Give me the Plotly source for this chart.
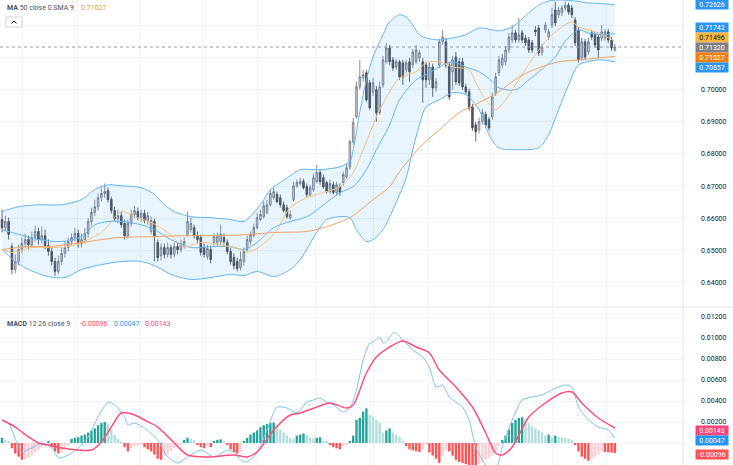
import plotly.graph_objects as go

# ---------------- data ----------------
open_ = [0.6596, 0.6571, 0.6590, 0.6512, 0.6441, 0.6466, 0.6503, 0.6522, 0.6534, 0.6518,
         0.6540, 0.6559, 0.6534, 0.6546, 0.6515, 0.6497, 0.6466, 0.6435, 0.6466, 0.6491,
         0.6509, 0.6528, 0.6540, 0.6553, 0.6522, 0.6534, 0.6553, 0.6590, 0.6618, 0.6636,
         0.6664, 0.6677, 0.6686, 0.6658, 0.6624, 0.6599, 0.6608, 0.6584, 0.6546, 0.6584,
         0.6612, 0.6621, 0.6602, 0.6615, 0.6593, 0.6559, 0.6590, 0.6525, 0.6484, 0.6509,
         0.6488, 0.6509, 0.6488, 0.6512, 0.6503, 0.6515, 0.6550, 0.6565, 0.6571, 0.6546,
         0.6540, 0.6509, 0.6481, 0.6503, 0.6525, 0.6525, 0.6528, 0.6540, 0.6525, 0.6497,
         0.6478, 0.6466, 0.6447, 0.6466, 0.6503, 0.6528, 0.6546, 0.6571, 0.6596, 0.6605,
         0.6618, 0.6642, 0.6664, 0.6674, 0.6664, 0.6642, 0.6633, 0.6602, 0.6658, 0.6701,
         0.6708, 0.6714, 0.6698, 0.6674, 0.6689, 0.6714, 0.6742, 0.6726, 0.6711, 0.6683,
         0.6704, 0.6680, 0.6698, 0.6711, 0.6729, 0.6760, 0.6838, 0.6915, 0.7008, 0.7036,
         0.7052, 0.7021, 0.6993, 0.6999, 0.6928, 0.7014, 0.7086, 0.7129, 0.7092, 0.7070,
         0.7086, 0.7083, 0.7061, 0.7086, 0.7076, 0.7086, 0.7098, 0.7086, 0.7076, 0.7030,
         0.7070, 0.7005, 0.7076, 0.7148, 0.7148, 0.7076, 0.7055, 0.7101, 0.7086, 0.7086,
         0.7008, 0.6993, 0.6946, 0.6890, 0.6875, 0.6900, 0.6922, 0.6906, 0.6915, 0.6990,
         0.7052, 0.7076, 0.7086, 0.7123, 0.7154, 0.7176, 0.7154, 0.7176, 0.7160, 0.7154,
         0.7145, 0.7185, 0.7191, 0.7114, 0.7185, 0.7163, 0.7200, 0.7247, 0.7232, 0.7238,
         0.7253, 0.7262, 0.7253, 0.7216, 0.7185, 0.7098, 0.7148, 0.7117, 0.7176, 0.7170,
         0.7163, 0.7160, 0.7160, 0.7179, 0.7154, 0.7123]
high = [0.6627, 0.6608, 0.6602, 0.6522, 0.6488, 0.6518, 0.6540, 0.6553, 0.6546, 0.6559,
        0.6577, 0.6571, 0.6574, 0.6565, 0.6534, 0.6509, 0.6478, 0.6484, 0.6509, 0.6528,
        0.6540, 0.6553, 0.6571, 0.6565, 0.6553, 0.6571, 0.6602, 0.6633, 0.6658, 0.6677,
        0.6695, 0.6708, 0.6695, 0.6667, 0.6636, 0.6627, 0.6621, 0.6596, 0.6596, 0.6627,
        0.6639, 0.6633, 0.6627, 0.6627, 0.6621, 0.6605, 0.6599, 0.6534, 0.6522, 0.6522,
        0.6525, 0.6518, 0.6525, 0.6525, 0.6534, 0.6540, 0.6621, 0.6602, 0.6580, 0.6559,
        0.6550, 0.6522, 0.6518, 0.6515, 0.6553, 0.6556, 0.6580, 0.6553, 0.6534, 0.6509,
        0.6491, 0.6478, 0.6497, 0.6509, 0.6546, 0.6559, 0.6584, 0.6615, 0.6627, 0.6652,
        0.6658, 0.6689, 0.6695, 0.6683, 0.6674, 0.6652, 0.6642, 0.6624, 0.6714, 0.6720,
        0.6726, 0.6723, 0.6708, 0.6704, 0.6739, 0.6766, 0.6751, 0.6736, 0.6717, 0.6720,
        0.6714, 0.6714, 0.6708, 0.6745, 0.6770, 0.6844, 0.6912, 0.7024, 0.7092, 0.7061,
        0.7061, 0.7030, 0.7036, 0.7011, 0.7024, 0.7104, 0.7145, 0.7138, 0.7101, 0.7095,
        0.7092, 0.7092, 0.7092, 0.7098, 0.7126, 0.7138, 0.7123, 0.7098, 0.7086, 0.7083,
        0.7080, 0.7036, 0.7157, 0.7185, 0.7160, 0.7086, 0.7104, 0.7117, 0.7098, 0.7098,
        0.7018, 0.7002, 0.6956, 0.6900, 0.6912, 0.6940, 0.6931, 0.6915, 0.6990, 0.7052,
        0.7104, 0.7111, 0.7135, 0.7176, 0.7200, 0.7185, 0.7222, 0.7185, 0.7170, 0.7163,
        0.7154, 0.7197, 0.7200, 0.7142, 0.7210, 0.7188, 0.7253, 0.7272, 0.7256, 0.7262,
        0.7272, 0.7269, 0.7262, 0.7225, 0.7194, 0.7160, 0.7157, 0.7160, 0.7185, 0.7179,
        0.7173, 0.7200, 0.7188, 0.7188, 0.7163, 0.7142]
low = [0.6556, 0.6559, 0.6534, 0.6426, 0.6429, 0.6453, 0.6491, 0.6509, 0.6503, 0.6509,
       0.6528, 0.6518, 0.6522, 0.6503, 0.6484, 0.6453, 0.6422, 0.6426, 0.6456, 0.6478,
       0.6497, 0.6515, 0.6528, 0.6509, 0.6509, 0.6522, 0.6540, 0.6577, 0.6608, 0.6624,
       0.6652, 0.6664, 0.6649, 0.6615, 0.6590, 0.6584, 0.6571, 0.6534, 0.6537, 0.6574,
       0.6602, 0.6593, 0.6590, 0.6584, 0.6580, 0.6550, 0.6466, 0.6466, 0.6469, 0.6475,
       0.6478, 0.6475, 0.6478, 0.6488, 0.6494, 0.6506, 0.6543, 0.6556, 0.6537, 0.6522,
       0.6484, 0.6478, 0.6472, 0.6460, 0.6515, 0.6515, 0.6518, 0.6518, 0.6488, 0.6456,
       0.6441, 0.6435, 0.6438, 0.6453, 0.6494, 0.6518, 0.6540, 0.6565, 0.6590, 0.6599,
       0.6612, 0.6636, 0.6658, 0.6646, 0.6633, 0.6618, 0.6599, 0.6596, 0.6652, 0.6695,
       0.6701, 0.6689, 0.6664, 0.6667, 0.6683, 0.6708, 0.6704, 0.6692, 0.6677, 0.6677,
       0.6674, 0.6670, 0.6670, 0.6701, 0.6723, 0.6751, 0.6828, 0.6909, 0.6999, 0.7024,
       0.6962, 0.6937, 0.6980, 0.6900, 0.6922, 0.7005, 0.7080, 0.7076, 0.7058, 0.7061,
       0.7030, 0.7014, 0.7052, 0.7024, 0.7067, 0.7080, 0.7086, 0.6959, 0.7005, 0.7014,
       0.6977, 0.6993, 0.7067, 0.7138, 0.7067, 0.6968, 0.6999, 0.7014, 0.7011, 0.6999,
       0.6984, 0.6934, 0.6872, 0.6838, 0.6863, 0.6890, 0.6881, 0.6872, 0.6906, 0.6980,
       0.7042, 0.7067, 0.7076, 0.7114, 0.7145, 0.7145, 0.7145, 0.7145, 0.7135, 0.7114,
       0.7114, 0.7166, 0.7104, 0.7104, 0.7176, 0.7154, 0.7191, 0.7197, 0.7222, 0.7228,
       0.7244, 0.7232, 0.7222, 0.7135, 0.7083, 0.7089, 0.7092, 0.7108, 0.7154, 0.7129,
       0.7098, 0.7151, 0.7151, 0.7145, 0.7120, 0.7117]
close = [0.6571, 0.6590, 0.6550, 0.6441, 0.6466, 0.6503, 0.6522, 0.6534, 0.6518, 0.6540,
         0.6559, 0.6534, 0.6546, 0.6515, 0.6497, 0.6466, 0.6435, 0.6466, 0.6491, 0.6509,
         0.6528, 0.6540, 0.6553, 0.6522, 0.6534, 0.6553, 0.6590, 0.6618, 0.6636, 0.6664,
         0.6677, 0.6683, 0.6658, 0.6624, 0.6599, 0.6608, 0.6580, 0.6546, 0.6584, 0.6612,
         0.6624, 0.6602, 0.6615, 0.6593, 0.6608, 0.6593, 0.6546, 0.6478, 0.6509, 0.6488,
         0.6509, 0.6488, 0.6512, 0.6503, 0.6522, 0.6528, 0.6590, 0.6584, 0.6546, 0.6534,
         0.6494, 0.6488, 0.6506, 0.6472, 0.6543, 0.6543, 0.6550, 0.6528, 0.6497, 0.6466,
         0.6453, 0.6444, 0.6472, 0.6497, 0.6534, 0.6550, 0.6571, 0.6602, 0.6612, 0.6639,
         0.6642, 0.6677, 0.6683, 0.6652, 0.6642, 0.6624, 0.6605, 0.6612, 0.6701, 0.6711,
         0.6714, 0.6695, 0.6674, 0.6695, 0.6726, 0.6742, 0.6714, 0.6698, 0.6683, 0.6708,
         0.6680, 0.6704, 0.6680, 0.6736, 0.6757, 0.6838, 0.6897, 0.7008, 0.7039, 0.7046,
         0.6968, 0.6943, 0.7021, 0.6928, 0.7008, 0.7092, 0.7129, 0.7086, 0.7067, 0.7086,
         0.7039, 0.7039, 0.7083, 0.7055, 0.7117, 0.7123, 0.7114, 0.7030, 0.7030, 0.7070,
         0.7005, 0.7024, 0.7148, 0.7163, 0.7076, 0.6977, 0.7092, 0.7024, 0.7021, 0.7008,
         0.6993, 0.6943, 0.6881, 0.6869, 0.6900, 0.6928, 0.6890, 0.6881, 0.6977, 0.7039,
         0.7092, 0.7098, 0.7123, 0.7163, 0.7176, 0.7154, 0.7170, 0.7154, 0.7145, 0.7123,
         0.7123, 0.7179, 0.7114, 0.7132, 0.7200, 0.7179, 0.7232, 0.7207, 0.7247, 0.7253,
         0.7262, 0.7241, 0.7232, 0.7145, 0.7092, 0.7148, 0.7101, 0.7148, 0.7163, 0.7138,
         0.7123, 0.7179, 0.7179, 0.7154, 0.7129, 0.7132]
bar_idx = list(range(len(close)))

# Bollinger bands (20, 2)
bb_up_idx = [0, 5, 11, 18, 24, 28, 32, 36, 42, 46, 49, 52, 57, 63, 69, 73, 78, 81, 84, 87, 90, 96, 102, 105,
             106, 108, 110, 112, 115, 117, 120, 122, 124, 126, 128, 132, 136, 140, 144, 148, 150, 154, 159,
             162, 165, 168, 173, 177, 182, 185]
bb_up = [0.6621, 0.6636, 0.6642, 0.6642, 0.6658, 0.6689, 0.6704, 0.6701, 0.6695, 0.6674, 0.6642, 0.6621,
         0.6605, 0.6602, 0.6596, 0.6590, 0.6642, 0.6689, 0.6711, 0.6732, 0.6751, 0.6751, 0.6760, 0.6776,
         0.6813, 0.6931, 0.7030, 0.7101, 0.7170, 0.7210, 0.7232, 0.7225, 0.7200, 0.7170, 0.7160, 0.7154,
         0.7160, 0.7170, 0.7191, 0.7185, 0.7182, 0.7194, 0.7238, 0.7262, 0.7275, 0.7278, 0.7275, 0.7269,
         0.7266, 0.72626]
bb_lo_idx = [0, 4, 8, 14, 19, 24, 30, 36, 42, 46, 51, 57, 63, 69, 73, 77, 82, 87, 90, 95, 98, 102, 105,
             107, 110, 112, 115, 118, 122, 124, 126, 128, 132, 136, 140, 144, 147, 150, 156, 162, 165, 168,
             171, 174, 180, 185]
bb_lo = [0.6503, 0.6466, 0.6441, 0.6419, 0.6416, 0.6441, 0.6456, 0.6466, 0.6466, 0.6453, 0.6426, 0.6410,
         0.6416, 0.6426, 0.6422, 0.6435, 0.6419, 0.6441, 0.6472, 0.6556, 0.6596, 0.6605, 0.6602, 0.6565,
         0.6528, 0.6534, 0.6565, 0.6627, 0.6726, 0.6813, 0.6890, 0.6946, 0.6968, 0.6990, 0.6984, 0.6937,
         0.6860, 0.6819, 0.6813, 0.6819, 0.6860, 0.6937, 0.7014, 0.7076, 0.7092, 0.70857]
bb_mid_idx = [0, 5, 11, 18, 24, 28, 32, 36, 42, 46, 51, 57, 63, 69, 73, 77, 82, 87, 92, 98, 102, 106, 110,
              113, 117, 120, 125, 128, 132, 136, 140, 144, 148, 150, 155, 159, 162, 167, 170, 174, 177, 182,
              185]
bb_mid = [0.6565, 0.6550, 0.6534, 0.6528, 0.6543, 0.6580, 0.6590, 0.6590, 0.6580, 0.6565, 0.6534, 0.6509,
          0.6512, 0.6512, 0.6503, 0.6525, 0.6571, 0.6590, 0.6605, 0.6649, 0.6680, 0.6698, 0.6751, 0.6813,
          0.6890, 0.6968, 0.7030, 0.7046, 0.7070, 0.7086, 0.7070, 0.7055, 0.7025, 0.7005, 0.6999, 0.7030,
          0.7055, 0.7100, 0.7150, 0.7185, 0.7176, 0.7170, 0.71742]

# moving averages
ma_fast_idx = [0, 3, 9, 20, 30, 36, 40, 45, 50, 55, 60, 70, 75, 82, 87, 92, 97, 102, 106, 109, 114, 120, 125,
               128, 132, 136, 141, 143, 146, 149, 152, 156, 161, 166, 172, 174, 180, 185]
ma_fast = [0.6503, 0.6494, 0.6509, 0.6512, 0.6556, 0.6621, 0.6605, 0.6587, 0.6556, 0.6512, 0.6525, 0.6509,
           0.6497, 0.6550, 0.6633, 0.6664, 0.6680, 0.6698, 0.6742, 0.6813, 0.6937, 0.7036, 0.7055, 0.7083,
           0.7086, 0.7070, 0.7061, 0.7021, 0.6968, 0.6937, 0.6968, 0.7030, 0.7108, 0.7170, 0.7210, 0.7194,
           0.7176, 0.71496]
ma50_idx = [0, 8, 14, 24, 35, 45, 55, 65, 75, 82, 92, 97, 105, 112, 117, 120, 126, 132, 138, 144, 150, 156,
            162, 168, 174, 180, 185]
ma50 = [0.6503, 0.6512, 0.6512, 0.6525, 0.6540, 0.6543, 0.6546, 0.6546, 0.6550, 0.6556, 0.6559, 0.6571,
        0.6602, 0.6658, 0.6698, 0.6745, 0.6819, 0.6875, 0.6928, 0.6959, 0.6993, 0.7039, 0.7067, 0.7086,
        0.7092, 0.7098, 0.71027]

# MACD (12, 26, 9)
macd_idx = [0, 2, 5, 6, 9, 12, 15, 17, 20, 23, 26, 29, 32, 34, 37, 38, 40, 43, 47, 50, 53, 56, 60, 64, 68,
            70, 72, 74, 77, 80, 83, 86, 89, 92, 94, 96, 98, 100, 103, 105, 107, 109, 111, 112, 114, 115, 116,
            118, 119, 121, 124, 127, 129, 131, 133, 135, 137, 139, 141, 143, 146, 149, 151, 154, 157, 160,
            163, 166, 170, 172, 174, 177, 180, 183, 185]
macd = [0.00219, 0.00190, -0.00038, -0.00086, -0.00048, 0.00000, -0.00038, -0.00143, -0.00114, -0.00048,
        0.00057, 0.00248, 0.00390, 0.00362, 0.00248, 0.00171, 0.00190, 0.00143, 0.00029, -0.00133,
        -0.00190, -0.00133, -0.00067, -0.00133, -0.00067, -0.00086, -0.00162, -0.00181, -0.00095, 0.00124,
        0.00343, 0.00333, 0.00286, 0.00390, 0.00410, 0.00429, 0.00390, 0.00362, 0.00295, 0.00333,
        0.00505, 0.00790, 0.00952, 0.00962, 0.01010, 0.00952, 0.00962, 0.01048, 0.01048, 0.00981,
        0.00886, 0.00819, 0.00724, 0.00533, 0.00552, 0.00438, 0.00390, 0.00343, 0.00219, -0.00038,
        -0.00210, -0.00260, -0.00038, 0.00219, 0.00410, 0.00438, 0.00457, 0.00505, 0.00552, 0.00533,
        0.00343, 0.00219, 0.00152, 0.00124, 0.00047]
signal_idx = [0, 4, 8, 11, 14, 18, 23, 27, 30, 33, 36, 40, 43, 47, 52, 56, 62, 70, 74, 77, 82, 87, 90, 95,
              99, 104, 106, 110, 113, 117, 121, 125, 129, 132, 137, 142, 146, 149, 151, 154, 159, 164, 169,
              172, 175, 180, 185]
signal = [0.00219, 0.00152, 0.00057, 0.00000, -0.00019, -0.00048, -0.00067, -0.00067, 0.00010, 0.00152,
          0.00286, 0.00267, 0.00219, 0.00152, 0.00000, -0.00114, -0.00133, -0.00114, -0.00133, -0.00086,
          0.00124, 0.00267, 0.00286, 0.00343, 0.00381, 0.00333, 0.00362, 0.00667, 0.00819, 0.00914,
          0.00971, 0.00914, 0.00857, 0.00695, 0.00533, 0.00343, 0.00095, -0.00095, -0.00114, -0.00038,
          0.00248, 0.00381, 0.00476, 0.00486, 0.00381, 0.00238, 0.00143]
hist = [0.0005, 0.0003, 0.0002, -0.0005, -0.0010, -0.0013, -0.0016, -0.00155, -0.0014, -0.0012,
        -0.0009, -0.0007, -0.0004, -0.0003, 0.0001, -0.0004, -0.0008, -0.0010, -0.0009, -0.0006,
        -0.0003, 0.0004, 0.0005, 0.00055, 0.0007, 0.0008, 0.0010, 0.0012, 0.0014, 0.0017,
        0.0019, 0.0020, 0.0018, 0.0013, 0.0008, 0.0004, 0.0001, -0.0004, -0.0008, -0.0005,
        -0.0003, -0.00025, -0.0002, -0.0004, -0.0006, -0.0008, -0.0011, -0.0015, -0.0016, -0.0013,
        -0.0011, -0.0008, -0.0005, -0.0003, -0.0001, 0.0003, 0.0005, 0.0004, 0.0003, -0.0002,
        -0.0004, -0.0005, -0.0003, -0.0004, 0.0001, 0.0003, 0.00035, 0.0002, -0.0002, -0.0006,
        -0.0009, -0.0010, -0.0008, 0.0002, 0.0005, 0.0008, 0.0010, 0.0012, 0.0015, 0.0017,
        0.0018, 0.0019, 0.00195, 0.0017, 0.0013, 0.0010, 0.0007, 0.0005, 0.0004, 0.0007,
        0.0008, 0.0009, 0.0008, 0.0005, 0.0004, 0.0005, 0.00055, 0.0002, 0.0001, -0.0002,
        -0.0004, -0.0005, -0.0006, -0.0003, -0.0002, 0.0001, 0.0007, 0.0022, 0.0024, 0.0030,
        0.0033, 0.0027, 0.0025, 0.0022, 0.0019, 0.0010, 0.0012, 0.0014, 0.0010, 0.0008,
        0.0006, 0.0002, -0.0003, -0.0006, -0.0007, -0.0008, -0.00085, -0.0006, -0.0002, -0.0009,
        -0.0012, -0.0015, -0.0019, -0.0012, -0.0007, -0.0008, -0.0012, -0.0016, -0.0018, -0.0019,
        -0.0020, -0.0021, -0.00215, -0.0022, -0.0020, -0.0018, -0.0016, -0.0014, -0.0011, -0.0007,
        -0.0003, 0.0003, 0.0007, 0.0013, 0.0019, 0.0022, 0.0024, 0.00245, 0.0022, 0.0019,
        0.0016, 0.0014, 0.0012, 0.0010, 0.0007, 0.0008, 0.0006, 0.0007, 0.0006, 0.00055,
        0.0005, 0.0004, 0.0003, -0.0002, -0.0008, -0.0013, -0.0015, -0.0017, -0.0015, -0.0013,
        -0.0011, -0.0008, -0.00085, -0.0009, -0.00092, -0.00096]

# axis ticks
price_ticks = [0.64, 0.65, 0.66, 0.67, 0.68, 0.69, 0.70, 0.71, 0.72]
macd_ticks = [-0.002, 0.0, 0.002, 0.004, 0.006, 0.008, 0.010, 0.012]
time_grid = [6.3, 22.9, 41.7, 60.4, 77.0, 94.5, 112.0, 128.6, 147.3, 166.3, 182.6]

# ---------------- styling / layout ----------------
W, H, R = 733, 465, 50
PW = W - R
def px_x(p):
    return p / PW
def px_y(p):
    return 1 - p / H

C_BB = "#64b5f6"
C_FAST = "#f5c27a"
C_MA50 = "#f2a35e"
C_MACD = "#7ec0f7"
C_SIG = "#ff4f7b"
GRID = "#f0f3fa"

fig = go.Figure()

# BB fill
fig.add_trace(go.Scatter(x=bb_up_idx + bb_lo_idx[::-1], y=bb_up + bb_lo[::-1], fill="toself",
                         fillcolor="rgba(33,150,243,0.10)", line=dict(width=0), mode="lines",
                         hoverinfo="skip", xaxis="x", yaxis="y"))
for xs, ys, col in [(bb_up_idx, bb_up, C_BB), (bb_lo_idx, bb_lo, C_BB), (bb_mid_idx, bb_mid, C_BB),
                    (ma_fast_idx, ma_fast, C_FAST), (ma50_idx, ma50, C_MA50)]:
    fig.add_trace(go.Scatter(x=xs, y=ys, mode="lines", line=dict(color=col, width=1, shape="spline", smoothing=0.8),
                             hoverinfo="skip", xaxis="x", yaxis="y"))

fig.add_trace(go.Candlestick(x=bar_idx, open=open_, high=high, low=low, close=close,
                             increasing=dict(line=dict(color="#6f727c", width=0.8), fillcolor="#d1d4dc"),
                             decreasing=dict(line=dict(color="#3f4147", width=0.8), fillcolor="#5d5f66"),
                             whiskerwidth=0, xaxis="x", yaxis="y"))

# MACD histogram colours (TradingView rule)
hcol = []
for k, v in enumerate(hist):
    prev = hist[k - 1] if k > 0 else v
    if v >= 0:
        hcol.append("#26a69a" if v >= prev else "#b2dfdb")
    else:
        hcol.append("#ff5252" if v <= prev else "#ffcdd2")
fig.add_trace(go.Bar(x=bar_idx, y=hist, marker=dict(color=hcol, line=dict(width=0)), width=0.72,
                     xaxis="x2", yaxis="y2", hoverinfo="skip"))
fig.add_trace(go.Scatter(x=macd_idx, y=macd, mode="lines", line=dict(color=C_MACD, width=1, shape="spline", smoothing=0.6),
                         xaxis="x2", yaxis="y2", hoverinfo="skip"))
fig.add_trace(go.Scatter(x=signal_idx, y=signal, mode="lines", line=dict(color=C_SIG, width=1.5, shape="spline", smoothing=0.8),
                         xaxis="x2", yaxis="y2", hoverinfo="skip"))

x0 = -2 / 3.313
x1 = (PW - 2) / 3.313
axis_common = dict(showticklabels=False, showgrid=True, gridcolor=GRID, gridwidth=1, zeroline=False,
                   tickvals=time_grid, range=[x0, x1], showline=False, ticks="")
price_dom = [px_y(306), 1]
macd_dom = [0, px_y(308)]
p_top = 0.70 + 89.5 * 0.000310559
p_bot = 0.70 - (306 - 89.5) * 0.000310559
m_top = (443 - 308) / 10500
m_bot = (443 - 465) / 10500

# the 0.00000 tick label is hidden behind the MACD value tag in the reference
macd_text = ["" if abs(t) < 1e-9 else "%.5f" % t for t in macd_ticks]

fig.update_layout(
    width=W, height=H, margin=dict(l=0, r=R, t=0, b=0), autosize=False,
    paper_bgcolor="white", plot_bgcolor="white", showlegend=False,
    font=dict(family="Roboto, 'Liberation Sans', sans-serif", size=7, color="#131722"),
    xaxis=dict(axis_common, domain=[0, 1], anchor="y", rangeslider=dict(visible=False)),
    xaxis2=dict(axis_common, domain=[0, 1], anchor="y2", matches="x"),
    yaxis=dict(domain=price_dom, range=[p_bot, p_top], side="right", tickvals=price_ticks,
               ticktext=["%.5f" % t if t < 0.705 else "" for t in price_ticks],
               showgrid=True, gridcolor=GRID, zeroline=False, ticks="", ticklabelstandoff=17,
               tickfont=dict(size=7, color="#131722")),
    yaxis2=dict(domain=macd_dom, range=[m_bot, m_top], side="right", tickvals=macd_ticks,
                ticktext=macd_text, showgrid=True, gridcolor=GRID,
                zeroline=False, ticks="", ticklabelstandoff=17, tickfont=dict(size=7, color="#131722")),
)

shapes = []
# last price dotted line
shapes.append(dict(type="line", xref="x domain", yref="y", x0=0, x1=1, y0=close[-1], y1=close[-1],
                   line=dict(color="#9598a1", width=1, dash="dot")))
# separators
shapes.append(dict(type="line", xref="paper", yref="paper", x0=1, x1=1, y0=0, y1=1,
                   line=dict(color="#e0e3eb", width=1)))
shapes.append(dict(type="line", xref="paper", yref="paper", x0=0, x1=W / PW, y0=px_y(307), y1=px_y(307),
                   line=dict(color="#e0e3eb", width=1)))
# collapse button
shapes.append(dict(type="rect", xref="paper", yref="paper", x0=px_x(6), x1=px_x(22), y0=px_y(27), y1=px_y(17),
                   line=dict(color="#d1d4dc", width=1), fillcolor="white"))
shapes.append(dict(type="path", xref="paper", yref="paper",
                   path="M %f %f L %f %f L %f %f" % (px_x(11.5), px_y(23.5), px_x(14), px_y(21), px_x(16.5), px_y(23.5)),
                   line=dict(color="#131722", width=1)))
fig.update_layout(shapes=shapes)

ann = []
ann.append(dict(xref="paper", yref="paper", x=px_x(5), y=px_y(8), xanchor="left", yanchor="middle",
                text="<b>MA</b> 50 close 0 SMA 9", showarrow=False, font=dict(size=7, color="#4c4f57")))
ann.append(dict(xref="paper", yref="paper", x=px_x(79), y=px_y(8), xanchor="left", yanchor="middle",
                text="%.5f" % ma50[-1], showarrow=False, font=dict(size=7, color="#f7931e")))
ann.append(dict(xref="paper", yref="paper", x=px_x(5), y=px_y(324), xanchor="left", yanchor="middle",
                text="<b>MACD</b> 12 26 close 9", showarrow=False, font=dict(size=7, color="#4c4f57")))
ann.append(dict(xref="paper", yref="paper", x=px_x(78), y=px_y(324), xanchor="left", yanchor="middle",
                text="%.5f" % hist[-1], showarrow=False, font=dict(size=7, color="#ff5252")))
ann.append(dict(xref="paper", yref="paper", x=px_x(112), y=px_y(324), xanchor="left", yanchor="middle",
                text="%.5f" % macd[-1], showarrow=False, font=dict(size=7, color="#2196f3")))
ann.append(dict(xref="paper", yref="paper", x=px_x(143), y=px_y(324), xanchor="left", yanchor="middle",
                text="%.5f" % signal[-1], showarrow=False, font=dict(size=7, color="#ff4081")))

def box(val, yref, shift, bg, fg="white"):
    return dict(xref="paper", yref=yref, x=px_x(711.5), y=val, yshift=shift, xanchor="center",
                yanchor="middle", text="%.5f" % val, showarrow=False, bgcolor=bg, width=30, height=7,
                borderpad=1, font=dict(size=7, color=fg))

ann.append(box(bb_up[-1], "y", 0, "#2a96f0"))
ann.append(box(bb_mid[-1], "y", 5.5, "#2a96f0"))
ann.append(box(ma_fast[-1], "y", 4, "#f5b53f", "#131722"))
ann.append(box(close[-1], "y", 0, "#7e8088"))
ann.append(box(ma50[-1], "y", -1, "#f07f12"))
ann.append(box(bb_lo[-1], "y", -5.5, "#2a96f0"))
ann.append(box(signal[-1], "y2", -3, "#f7457a"))
ann.append(box(macd[-1], "y2", -2, "#2196f3"))
ann.append(box(hist[-1], "y2", -1.5, "#ff5252"))
fig.update_layout(annotations=ann)

fig.write_html("out.html")
